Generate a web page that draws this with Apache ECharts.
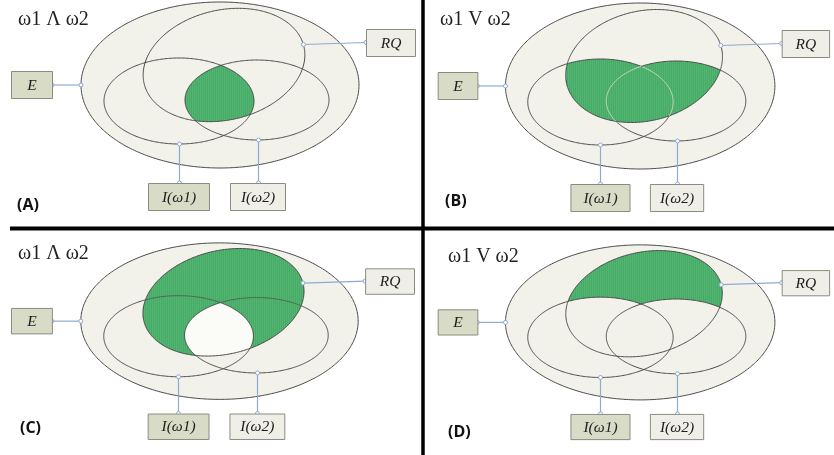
<!DOCTYPE html>
<html><head><meta charset="utf-8">
<script src="https://cdn.jsdelivr.net/npm/echarts@6/dist/echarts.min.js"></script>
<style>html,body{margin:0;padding:0;background:#fff}#c{width:834px;height:455px}</style>
</head><body><div id="c"></div>
<script>
// ---------------- data (panel-local units) ----------------
const ellipseNames = ['E', 'RQ', 'I(ω1)', 'I(ω2)'];
const ellipseCX = [220, 224, 179, 257];
const ellipseCY = [85, 65, 101, 100];
const ellipseRX = [139, 82, 75, 72];
const ellipseRY = [83, 55, 43, 40];
const ellipseTilt = [0, 13, 0, 0]; // degrees, positive = right side raised
const panelLabels = ['(A)', '(B)', '(C)', '(D)'];
const panelFormulas = ['ω1 Λ ω2', 'ω1 V ω2', 'ω1 Λ ω2', 'ω1 V ω2'];
const boxLabels = ['E', 'RQ', 'I(ω1)', 'I(ω2)'];
// shaded set of each panel, as a function of membership in RQ, I(ω1), I(ω2)
const shadeRules = [
  (r, a, b) => r && a && b,
  (r, a, b) => r && (a || b),
  (r, a, b) => r && !(a && b),
  (r, a, b) => r && !(a || b)
];
const lensBlank = [false, false, true, false];

// ---------------- layout ----------------
const panelOffsets = [[0, 0], [427, 1], [-1, 241], [427, 243]];
const titlePos = [[18, 10], [440, 10], [18, 244], [448, 247]];
const labelPos = [[17, 197], [445, 193], [20, 420], [448, 424]];
const boxRects = [[11, 71, 41, 27], [366, 29, 49, 27], [148, 183, 61, 27], [230, 183, 55, 27]];
const boxFills = ['#d8dbc6', '#efefe7', '#d8dbc6', '#efefe7'];
const faintColors = ['#9aa890', '#d2d8b8', '#4f6552', '#9aa890'];

// ---------------- geometry helpers (pixel space) ----------------
function pix(api, v) {
  const c = api.coord([v[0], v[1]]);
  const s = api.size([v[2], v[3]], [v[0], v[1]]);
  const th = v[4] * Math.PI / 180;
  return {cx: c[0], cy: c[1], a: s[0], b: s[1], c: Math.cos(th), s: Math.sin(th)};
}
function ellVals(i) { return [ellipseCX[i], ellipseCY[i], ellipseRX[i], ellipseRY[i], ellipseTilt[i]]; }
function inside(e, x, y) {
  const u = x - e.cx, v = y - e.cy;
  const p = u * e.c - v * e.s, q = u * e.s + v * e.c;
  return p * p / (e.a * e.a) + q * q / (e.b * e.b) < 1;
}
function yRange(e, x) {
  const u = x - e.cx, ia = 1 / (e.a * e.a), ib = 1 / (e.b * e.b);
  const A = e.s * e.s * ia + e.c * e.c * ib;
  const B = 2 * u * e.c * e.s * (ib - ia);
  const C = u * u * (e.c * e.c * ia + e.s * e.s * ib) - 1;
  const d = B * B - 4 * A * C;
  if (d <= 0) return null;
  const r = Math.sqrt(d);
  return [e.cy + (-B - r) / (2 * A), e.cy + (-B + r) / (2 * A)];
}
function xRange(e, y) {
  const v = y - e.cy, ia = 1 / (e.a * e.a), ib = 1 / (e.b * e.b);
  const A = e.c * e.c * ia + e.s * e.s * ib;
  const B = 2 * v * e.c * e.s * (ib - ia);
  const C = v * v * (e.s * e.s * ia + e.c * e.c * ib) - 1;
  const d = B * B - 4 * A * C;
  if (d <= 0) return null;
  const r = Math.sqrt(d);
  return [e.cx + (-B - r) / (2 * A), e.cx + (-B + r) / (2 * A)];
}
function pointOn(e, t) {
  const p = e.a * Math.cos(t), q = e.b * Math.sin(t);
  return [e.cx + p * e.c + q * e.s, e.cy - p * e.s + q * e.c];
}
function outlinePts(e) {
  const pts = [];
  for (let j = 0; j < 240; j++) pts.push(pointOn(e, j / 240 * 2 * Math.PI));
  return pts;
}
// columns of a region (predicate over RQ, I1, I2)
function regionRects(ells, pred, color1, color2) {
  const rq = ells[1];
  const xext = Math.sqrt(rq.a * rq.a * rq.c * rq.c + rq.b * rq.b * rq.s * rq.s);
  const x0 = Math.floor(rq.cx - xext), x1 = Math.ceil(rq.cx + xext);
  const out = [];
  for (let x = x0; x < x1; x++) {
    const xc = x + 0.5;
    let bps = [];
    for (let k = 1; k <= 3; k++) { const r = yRange(ells[k], xc); if (r) bps.push(r[0], r[1]); }
    if (!bps.length) continue;
    bps.sort((m, n) => m - n);
    let runStart = null, runEnd = null;
    for (let j = 0; j < bps.length - 1; j++) {
      const y0 = bps[j], y1 = bps[j + 1];
      if (y1 - y0 < 1e-6) continue;
      const ym = (y0 + y1) / 2;
      const ok = pred(inside(ells[1], xc, ym), inside(ells[2], xc, ym), inside(ells[3], xc, ym));
      if (ok) {
        if (runStart === null) runStart = y0;
        runEnd = y1;
      } else if (runStart !== null) {
        out.push(mk(x, runStart, runEnd)); runStart = null;
      }
    }
    if (runStart !== null) out.push(mk(x, runStart, runEnd));
  }
  function mk(x, ya, yb) {
    return {type: 'rect', shape: {x: x, y: ya, width: 1, height: yb - ya},
      style: {fill: (x % 2 === 0) ? color1 : color2}, silent: true};
  }
  return out;
}

// ---------------- series builders ----------------
function fillRender(p) {
  return function (params, api) {
    const ells = [0, 1, 2, 3].map(i => pix(api, ellVals(i)));
    const children = [];
    children.push({type: 'polygon', shape: {points: outlinePts(ells[0])},
      style: {fill: '#f3f2ea', stroke: null}});
    if (lensBlank[p]) {
      regionRects(ells, (r, a, b) => r && a && b, '#fbfbf8', '#fbfbf8').forEach(c => children.push(c));
    }
    regionRects(ells, shadeRules[p], '#52b672', '#47aa66').forEach(c => children.push(c));
    return {type: 'group', children: children};
  };
}
function outlineRender(p) {
  return function (params, api) {
    const k = params.dataIndex;
    const e = pix(api, [api.value(0), api.value(1), api.value(2), api.value(3), api.value(4)]);
    const ells = [0, 1, 2, 3].map(i => pix(api, ellVals(i)));
    const N = 360;
    const pts = [];
    for (let j = 0; j <= N; j++) pts.push(pointOn(e, j / N * 2 * Math.PI));
    const segs = [];
    let cur = null, curFaint = null;
    for (let j = 0; j < N; j++) {
      const a = pts[j], b = pts[j + 1];
      const mx = (a[0] + b[0]) / 2, my = (a[1] + b[1]) / 2;
      let faint = false;
      if (k > 0) {
        const st = [null, inside(ells[1], mx, my), inside(ells[2], mx, my), inside(ells[3], mx, my)];
        st[k] = true; const t1 = shadeRules[p](st[1], st[2], st[3]);
        st[k] = false; const t0 = shadeRules[p](st[1], st[2], st[3]);
        faint = t1 && t0;
      }
      if (cur === null || faint !== curFaint) {
        if (cur) segs.push({pts: cur, faint: curFaint});
        cur = [a]; curFaint = faint;
      }
      cur.push(b);
    }
    if (cur) segs.push({pts: cur, faint: curFaint});
    return {type: 'group', children: segs.map(s => ({
      type: 'polyline', shape: {points: s.pts},
      style: {stroke: s.faint ? faintColors[p] : '#4a4a4a', lineWidth: 1, fill: null}, silent: true}))};
  };
}
function annotRender(p) {
  return function (params, api) {
    const ells = [0, 1, 2, 3].map(i => pix(api, ellVals(i)));
    const children = [];
    const bx = boxRects.map(r => {
      const tl = api.coord([r[0], r[1]]);
      const sz = api.size([r[2], r[3]], [r[0], r[1]]);
      return {x: tl[0], y: tl[1], w: sz[0], h: sz[1]};
    });
    const lines = [];
    {
      const b = bx[0], y = b.y + b.h / 2 + 0.5;
      const xr = xRange(ells[0], y);
      lines.push([[b.x + b.w, y], [xr[0], y]]);
    }
    {
      const b = bx[1], yb = b.y + b.h / 2;
      const ye = yb + 2;
      const xr = xRange(ells[1], ye);
      lines.push([[xr[1], ye], [b.x, yb]]);
    }
    [[2, 2], [3, 3]].forEach(([ei, bi]) => {
      const b = bx[bi], x = Math.round(b.x + b.w / 2) + 0.5;
      const yr = yRange(ells[ei], x);
      lines.push([[x, yr[1]], [x, b.y]]);
    });
    lines.forEach(l => {
      children.push({type: 'line', shape: {x1: l[0][0], y1: l[0][1], x2: l[1][0], y2: l[1][1]},
        style: {stroke: '#8eaad2', lineWidth: 1.2}});
    });
    lines.forEach(l => {
      l.forEach(pt => children.push({type: 'circle', shape: {cx: pt[0], cy: pt[1], r: 2},
        style: {fill: '#ffffff', stroke: '#8eaad2', lineWidth: 1}}));
    });
    bx.forEach((b, i) => {
      children.push({type: 'rect', shape: {x: b.x + 0.5, y: b.y + 0.5, width: b.w, height: b.h},
        style: {fill: boxFills[i], stroke: '#8b8b82', lineWidth: 1}});
      children.push({type: 'text', style: {text: boxLabels[i], x: b.x + b.w / 2 + 0.5, y: b.y + b.h / 2 + 1,
        align: 'center', verticalAlign: 'middle', fill: '#1e1e1e',
        font: 'italic 15.5px "Liberation Serif", "DejaVu Serif", serif'}});
    });
    return {type: 'group', children: children};
  };
}

const grids = [], xAxes = [], yAxes = [], series = [], titles = [];
for (let p = 0; p < 4; p++) {
  grids.push({left: panelOffsets[p][0], top: panelOffsets[p][1], width: 420, height: 227});
  xAxes.push({type: 'value', gridIndex: p, min: 0, max: 420, show: false});
  yAxes.push({type: 'value', gridIndex: p, min: 0, max: 227, inverse: true, show: false});
  const base = {type: 'custom', coordinateSystem: 'cartesian2d', xAxisIndex: p, yAxisIndex: p,
    clip: false, silent: true, animation: false, encode: {x: 0, y: 1}};
  series.push(Object.assign({}, base, {name: 'fill' + p, z: 1,
    data: [[ellipseCX[0], ellipseCY[0]]], renderItem: fillRender(p)}));
  series.push(Object.assign({}, base, {name: 'outline' + p, z: 3,
    data: ellipseNames.map((n, i) => ({name: n, value: ellVals(i)})), renderItem: outlineRender(p)}));
  series.push(Object.assign({}, base, {name: 'annot' + p, z: 4,
    data: [[ellipseCX[0], ellipseCY[0]]], renderItem: annotRender(p)}));
  titles.push({text: panelFormulas[p], left: titlePos[p][0], top: titlePos[p][1], padding: 0,
    textStyle: {fontFamily: '"Liberation Serif", "DejaVu Serif", serif', fontSize: 20, fontWeight: 'normal', color: '#222'}});
  titles.push({text: panelLabels[p], left: labelPos[p][0], top: labelPos[p][1], padding: 0,
    textStyle: {fontFamily: '"Open Sans", "Liberation Sans", sans-serif', fontSize: 16, fontWeight: 'bold', color: '#111'}});
}

const chart = echarts.init(document.getElementById('c'));
chart.setOption({
  animation: false,
  backgroundColor: '#ffffff',
  title: titles,
  grid: grids, xAxis: xAxes, yAxis: yAxes, series: series,
  graphic: [
    {type: 'line', z: 100, shape: {x1: 423, y1: 0, x2: 423, y2: 455}, style: {stroke: '#000', lineWidth: 3.5}},
    {type: 'line', z: 100, shape: {x1: 10, y1: 228.5, x2: 834, y2: 228.5}, style: {stroke: '#000', lineWidth: 4}}
  ]
});
</script></body></html>
